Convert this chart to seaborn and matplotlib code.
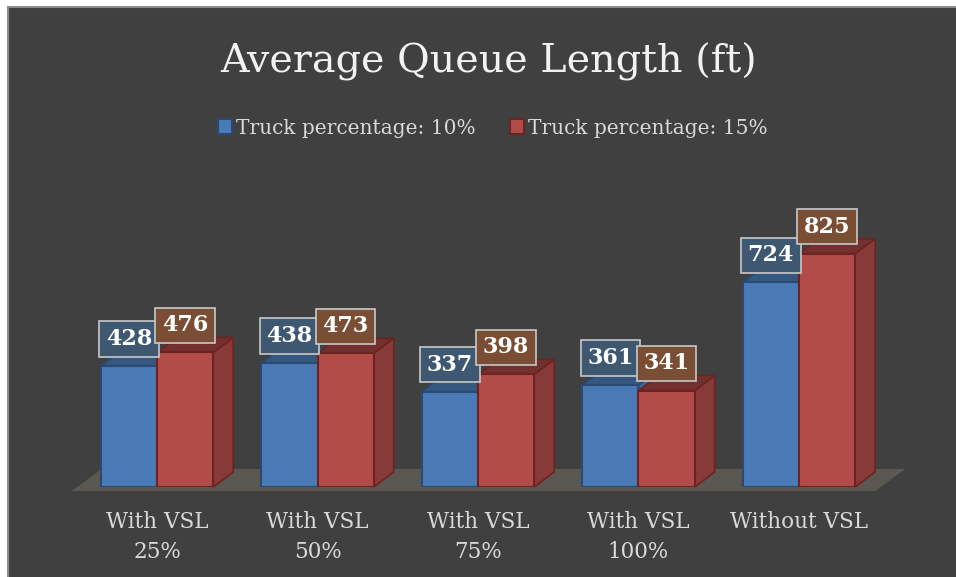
import numpy as np
import pandas as pd
import matplotlib
matplotlib.use("Agg")
import matplotlib.pyplot as plt
import seaborn as sns
from matplotlib.patches import Polygon, Rectangle
from matplotlib.transforms import IdentityTransform

# data
scenarios = ["With VSL\n25%", "With VSL\n50%", "With VSL\n75%", "With VSL\n100%", "Without VSL"]
series_names = ["Truck percentage: 10%", "Truck percentage: 15%"]
truck_10 = [428, 438, 337, 361, 724]
truck_15 = [476, 473, 398, 341, 825]

df = pd.DataFrame({
    "scenario": scenarios * 2,
    "queue": truck_10 + truck_15,
    "series": [series_names[0]] * len(scenarios) + [series_names[1]] * len(scenarios),
})

front = {series_names[0]: "#4a7bb7", series_names[1]: "#b24c49"}
edge = ["#2a4a73", "#6b2422"]
side = ["#3d6597", "#883a38"]
top = ["#34587f", "#73302e"]
label_fc = ["#3f5872", "#7a4e34"]

sns.set_theme(style="white")
plt.rcParams["font.family"] = ["DejaVu Serif"]

fig = plt.figure(figsize=(9.56, 5.77), dpi=100)
fig.patch.set_facecolor("white")
fig.patches.append(Rectangle((8 / 956, -0.01), 1.0, 1 - 7 / 577 + 0.01,
                             transform=fig.transFigure, facecolor="#404040",
                             edgecolor="#8c8c8c", lw=1.5, zorder=-1))

ax = fig.add_axes([0.0803, 0.156, 0.8394, 0.49])
sns.barplot(data=df, x="scenario", y="queue", hue="series", palette=front,
            width=0.7, saturation=1, legend=False, ax=ax)
ax.set_xlim(-0.5, 4.5)
ax.set_ylim(0, 1000)
ax.set_facecolor("none")
for s in ax.spines.values():
    s.set_visible(False)
ax.set_yticks([])
ax.set_xlabel("")
ax.set_ylabel("")
ax.tick_params(axis="x", length=0, pad=17, labelsize=15.5, colors="#d9d9d9")
for t in ax.get_xticklabels():
    t.set_linespacing(1.5)
fig.canvas.draw()

# floor
idt = IdentityTransform()
fl = ax.transAxes.transform((0, 0)) + np.array([-5, -4])
fr = ax.transAxes.transform((1, 0)) + np.array([-4, -4])
depth = np.array([30, 22])
ax.add_patch(Polygon([fl, fr, fr + depth, fl + depth], closed=True,
                     facecolor="#5a5850", edgecolor="none",
                     transform=idt, clip_on=False, zorder=1))

# fake 3D faces + value boxes
d = np.array([20, 15])
for i, cont in enumerate(ax.containers):
    for bar in cont:
        x0 = bar.get_x()
        x1 = x0 + bar.get_width()
        h = bar.get_height()
        tl = ax.transData.transform((x0, h))
        tr = ax.transData.transform((x1, h))
        br = ax.transData.transform((x1, 0))
        ax.add_patch(Polygon([br, tr, tr + d, br + d], closed=True,
                             facecolor=side[i], edgecolor=edge[i], lw=1.2,
                             transform=idt, clip_on=False, zorder=2))
        ax.add_patch(Polygon([tl, tr, tr + d, tl + d], closed=True,
                             facecolor=top[i], edgecolor=edge[i], lw=1.2,
                             transform=idt, clip_on=False, zorder=2))
        bar.set_edgecolor(edge[i])
        bar.set_linewidth(1.5)
        bar.set_zorder(3)
        ax.annotate(f"{int(round(h))}", xy=(x0 + bar.get_width() / 2, h),
                    xytext=(0, 19.5), textcoords="offset points",
                    ha="center", va="center", fontsize=16, fontweight="bold",
                    color="white", zorder=5, annotation_clip=False,
                    bbox=dict(boxstyle="square,pad=0.3", fc=label_fc[i],
                              ec="#c8c8c8", lw=1.2))

handles = [Rectangle((0, 0), 1, 1, facecolor=front[n], edgecolor=edge[k], lw=1.5)
           for k, n in enumerate(series_names)]
fig.legend(handles, series_names, loc="center", bbox_to_anchor=(493 / 956, 1 - 128 / 577),
           ncol=2, frameon=False, fontsize=14.5, handlelength=0.7, handleheight=0.7,
           handletextpad=0.2, columnspacing=1.7, labelcolor="#d9d9d9")

fig.text(489 / 956, 1 - 62 / 577, "Average Queue Length (ft)", ha="center", va="center",
         fontsize=28.5, color="#f2f2f2")

fig.savefig("out.png", dpi=100)
